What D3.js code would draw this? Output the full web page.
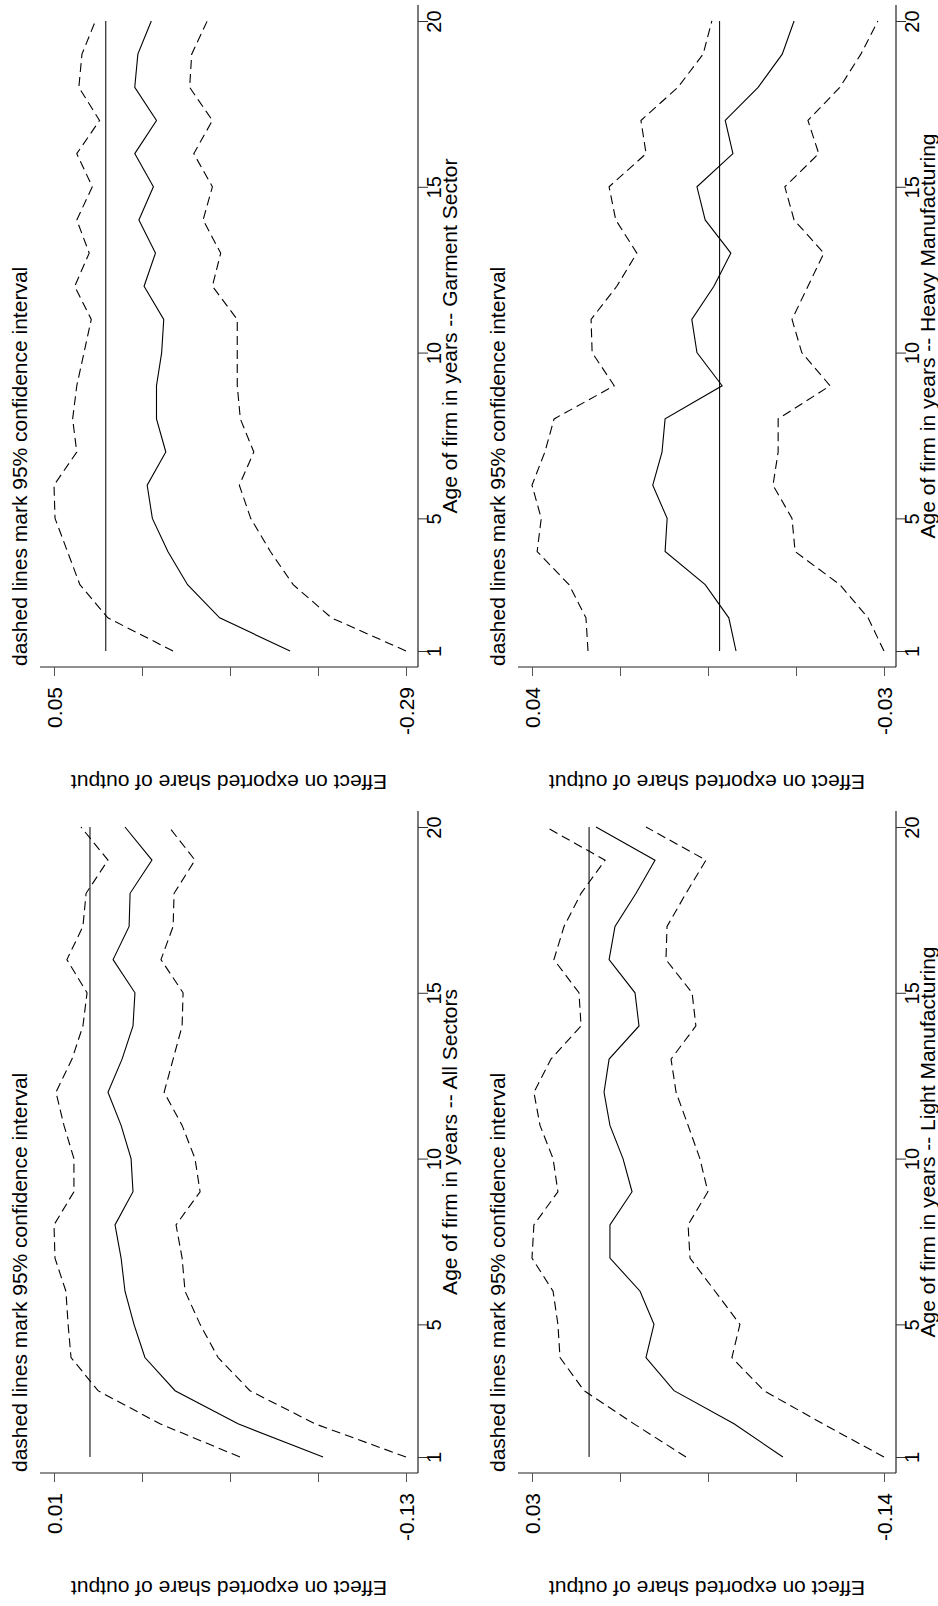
<!doctype html>
<html lang="en">
<head>
<meta charset="utf-8">
<title>Effect on exported share of output by age of firm</title>
<script src="https://d3js.org/d3.v7.min.js"></script>
<style>
  body { margin: 0; background: #fff; }
  text { font-family: "Liberation Sans", Arial, Helvetica, sans-serif; }
</style>
</head>
<body>
<svg width="938" height="1606"></svg>
<script>
var ages = d3.range(1, 21);
var ageTicks = [1, 5, 10, 15, 20];

var garmentUpper = [-0.065, -0.002, 0.025, 0.037, 0.049, 0.050, 0.028, 0.032, 0.028, 0.021, 0.014, 0.030, 0.016, 0.028, 0.013, 0.028, 0.006, 0.026, 0.023, 0.010];
var garmentEst   = [-0.178, -0.110, -0.079, -0.060, -0.045, -0.040, -0.058, -0.049, -0.049, -0.054, -0.056, -0.037, -0.048, -0.032, -0.046, -0.028, -0.049, -0.028, -0.031, -0.044];
var garmentLower = [-0.290, -0.218, -0.181, -0.159, -0.140, -0.129, -0.143, -0.130, -0.127, -0.127, -0.127, -0.103, -0.111, -0.094, -0.103, -0.085, -0.103, -0.081, -0.083, -0.098];

var heavyUpper = [0.0256, 0.0260, 0.0293, 0.0355, 0.0347, 0.0365, 0.0340, 0.0322, 0.0205, 0.0248, 0.0250, 0.0200, 0.0161, 0.0202, 0.0215, 0.0143, 0.0153, 0.0081, 0.0032, 0.0015];
var heavyEst   = [-0.0032, -0.0018, 0.0028, 0.0106, 0.0102, 0.0130, 0.0112, 0.0106, -0.0005, 0.0044, 0.0054, 0.0011, -0.0022, 0.0028, 0.0044, -0.0026, -0.0011, -0.0075, -0.0122, -0.0145];
var heavyLower = [-0.0320, -0.0289, -0.0234, -0.0147, -0.0141, -0.0104, -0.0114, -0.0114, -0.0215, -0.0160, -0.0141, -0.0172, -0.0203, -0.0145, -0.0127, -0.0193, -0.0172, -0.0234, -0.0275, -0.0308];

var allUpper = [-0.0617, -0.0288, -0.0033, 0.0078, 0.0090, 0.0099, 0.0144, 0.0148, 0.0066, 0.0066, 0.0107, 0.0140, 0.0074, 0.0029, 0.0012, 0.0095, 0.0029, 0.0016, -0.0074, 0.0037];
var allEst   = [-0.0959, -0.0609, -0.0350, -0.0226, -0.0181, -0.0144, -0.0128, -0.0103, -0.0177, -0.0169, -0.0128, -0.0074, -0.0132, -0.0177, -0.0185, -0.0095, -0.0161, -0.0165, -0.0255, -0.0144];
var allLower = [-0.130, -0.0926, -0.0658, -0.0527, -0.0453, -0.0391, -0.0379, -0.0354, -0.0453, -0.0432, -0.0379, -0.0305, -0.0342, -0.0379, -0.0383, -0.0292, -0.0342, -0.0346, -0.0432, -0.0325];

var lightUpper = [-0.0460, -0.0213, 0.0024, 0.0138, 0.0148, 0.0171, 0.0271, 0.0262, 0.0148, 0.0171, 0.0233, 0.0262, 0.0181, 0.0038, 0.0048, 0.0167, 0.0119, 0.0038, -0.0076, 0.0205];
var lightEst   = [-0.0920, -0.0688, -0.0403, -0.0270, -0.0308, -0.0242, -0.0099, -0.0099, -0.0204, -0.0161, -0.0099, -0.0071, -0.0095, -0.0237, -0.0218, -0.0095, -0.0123, -0.0223, -0.0313, -0.0033];
var lightLower = [-0.140, -0.1110, -0.0830, -0.0678, -0.0716, -0.0598, -0.0479, -0.0470, -0.0564, -0.0526, -0.0470, -0.0413, -0.0389, -0.0507, -0.0489, -0.0365, -0.0370, -0.0460, -0.0555, -0.0270];

var panels = [
  {name: 'Garment Sector', upper: garmentUpper, est: garmentEst, lower: garmentLower, col: 0, row: 0},
  {name: 'Heavy Manufacturing', upper: heavyUpper, est: heavyEst, lower: heavyLower, col: 1, row: 0},
  {name: 'All Sectors', upper: allUpper, est: allEst, lower: allLower, col: 0, row: 1},
  {name: 'Light Manufacturing', upper: lightUpper, est: lightEst, lower: lightLower, col: 1, row: 1}
];

var colX = [0, 478], rowY = [0, 806];
var svg = d3.select('svg');

panels.forEach(function(p){
  var ox = colX[p.col], oy = rowY[p.row];
  // the whole figure is turned a quarter turn: age runs upward, effect runs leftward
  var top = d3.max(p.upper), bottom = d3.min(p.lower);
  var x = d3.scaleLinear().domain([top, bottom]).range([ox + 54, ox + 406]);
  var y = d3.scaleLinear().domain([1, 20]).range([oy + 651, oy + 21]);
  var g = svg.append('g');

  // effect axis
  g.append('line')
    .attr('x1', ox + 40).attr('x2', ox + 418)
    .attr('y1', oy + 667).attr('y2', oy + 667)
    .style('stroke', '#222').style('stroke-width', 1.2);
  var effTicks = d3.range(5).map(function(i){ return top + (bottom - top) * i / 4; });
  var ax = g.append('g')
    .attr('transform', 'translate(0,' + (oy + 667) + ')')
    .style('color', '#555')
    .call(d3.axisBottom(x).tickValues(effTicks).tickSize(9).tickSizeOuter(0)
      .tickFormat(function(d, i){ return (i == 0 || i == 4) ? d.toFixed(2) : ''; }));
  ax.select('.domain').remove();
  ax.attr('font-size', 21).attr('font-family', null);
  ax.selectAll('text')
    .attr('y', 0).attr('dy', '0.35em')
    .attr('transform', 'translate(0,20) rotate(-90)')
    .attr('text-anchor', 'end')
    .style('fill', '#000');

  // age axis
  g.append('line')
    .attr('x1', ox + 418).attr('x2', ox + 418)
    .attr('y1', oy + 5).attr('y2', oy + 667)
    .style('stroke', '#222').style('stroke-width', 1.2);
  var ay = g.append('g')
    .attr('transform', 'translate(' + (ox + 418) + ',0)')
    .style('color', '#333')
    .call(d3.axisRight(y).tickValues(ageTicks).tickSize(10).tickSizeOuter(0));
  ay.select('.domain').remove();
  ay.attr('font-size', 20).attr('font-family', null);
  ay.selectAll('text')
    .attr('x', 0).attr('dy', 0)
    .attr('transform', 'translate(23,0) rotate(-90)')
    .attr('text-anchor', 'middle')
    .style('fill', '#000');

  // reference line at zero
  g.append('line')
    .attr('x1', x(0)).attr('x2', x(0))
    .attr('y1', y(1)).attr('y2', y(20))
    .style('stroke', '#111').style('stroke-width', 1.1);

  var line = d3.line()
    .x(function(d){ return x(d); })
    .y(function(d, i){ return y(ages[i]); });

  [p.upper, p.lower].forEach(function(s){
    g.append('path').attr('d', line(s))
      .style('fill', 'none').style('stroke', '#000').style('stroke-width', 1.1)
      .style('stroke-dasharray', '9,5');
  });
  g.append('path').attr('d', line(p.est))
    .style('fill', 'none').style('stroke', '#000').style('stroke-width', 1.1);

  // titles
  g.append('text')
    .attr('transform', 'translate(' + (ox + 27) + ',' + (oy + 666) + ') rotate(-90)')
    .attr('font-size', 21)
    .text('dashed lines mark 95% confidence interval');
  g.append('text')
    .attr('transform', 'translate(' + (ox + 457) + ',' + (oy + 336) + ') rotate(-90)')
    .attr('font-size', 21).attr('text-anchor', 'middle')
    .text('Age of firm in years -- ' + p.name);
  g.append('text')
    .attr('transform', 'translate(' + (ox + 229) + ',' + (oy + 775) + ') rotate(180)')
    .attr('font-size', 21).attr('text-anchor', 'middle')
    .text('Effect on exported share of output');
});
</script>
</body>
</html>
